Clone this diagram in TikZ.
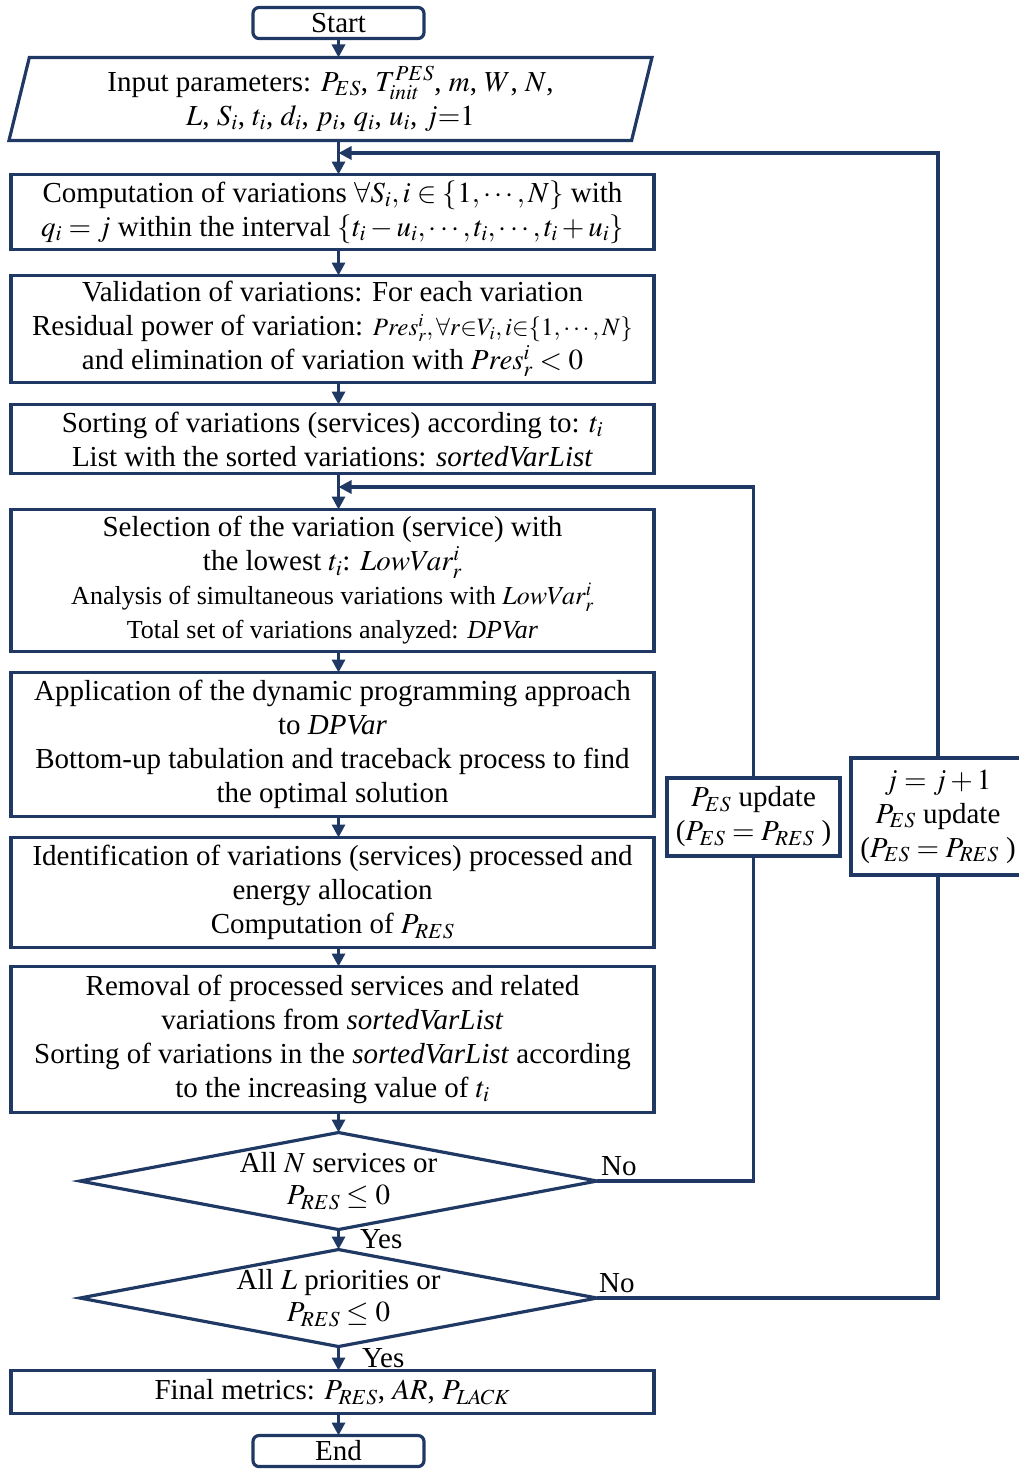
\documentclass[tikz,border=0pt]{standalone}
\usepackage{mathptmx}
\usepackage{fontspec}
\setmainfont{Liberation Serif}
\usepackage{tikz}
\usetikzlibrary{arrows.meta, positioning, shapes.geometric, calc}
\definecolor{navy}{RGB}{32,56,100}
\tikzset{%
	term/.style={draw=navy, line width=3.2pt, rectangle, rounded corners=6pt, minimum width=171pt, minimum height=31pt, inner sep=0pt, outer sep=0pt},
	io/.style={draw=navy, line width=3.2pt, trapezium, trapezium left angle=72.6, trapezium right angle=107.4,%
		trapezium stretches body, minimum width=643pt, minimum height=83pt, inner sep=0pt, outer sep=0pt, align=center},
	proc/.style={draw=navy, line width=3.2pt, rectangle, minimum width=643pt, align=center, inner sep=2pt, outer sep=0pt},
	dec/.style={draw=navy, line width=3.2pt, diamond, aspect=5.33, minimum width=517pt, minimum height=97pt,%
		inner sep=0pt, outer sep=0pt, align=center},
	upd/.style={draw=navy, line width=3.2pt, rectangle, align=center, inner sep=2pt, outer sep=0pt},
	flow/.style={draw=navy, line width=3.2pt},
	arr/.style={flow, -{Triangle[length=13pt, width=13pt]}},
	lbl/.style={inner sep=2pt}
}

\begin{document}
\begin{tikzpicture}[x=1pt, y=-1pt, font=\fontsize{29}{34}\selectfont]
		\useasboundingbox (0,0) rectangle (1018,1469);
		\node[term] (start) at (338.5,23) {Start};
		\node[io, xshift=-8pt] (input) [below=19pt of start]
			{Input parameters: $P_{ES}$, $T^{PES}_{init}$, $m$, $W$, $N$,\\ $L$, $S_i$, $t_i$, $d_i$, $p_i$, $q_i$, $u_i$, $j{=}1$};
		\node[proc, minimum height=75pt, xshift=2pt] (b1) [below=34pt of input]
			{Computation of variations $\forall S_i, i\in\{1,\cdots,N\}$ with\\ $q_i=j$ within the interval $\{t_i-u_i,\cdots,t_i,\cdots,t_i+u_i\}$};
		\node[proc, minimum height=107pt] (b2) [below=26pt of b1]
			{Validation of variations: For each variation\\ Residual power of variation: {\fontsize{25}{34}\selectfont$Pres^i_r,\forall r{\in}V_i, i{\in}\{1,\cdots,N\}$}\\ and elimination of variation with $Pres^i_r<0$};
		\node[proc, minimum height=69pt] (b3) [below=22pt of b2]
			{Sorting of variations (services) according to: $t_i$\\ List with the sorted variations: \textit{sortedVarList}};
		\node[proc, minimum height=142pt] (b4) [below=36pt of b3]
			{Selection of the variation (service) with\\ the lowest $t_i$: $LowVar^i_r$\\ {\fontsize{26}{32}\selectfont Analysis of simultaneous variations with $LowVar^i_r$}\\ {\fontsize{26}{30}\selectfont Total set of variations analyzed: \textit{DPVar}}};
		\node[proc, minimum height=144pt] (b5) [below=21pt of b4]
			{Application of the dynamic programming approach\\ to \textit{DPVar}\\ Bottom-up tabulation and traceback process to find\\ the optimal solution};
		\node[proc, minimum height=110pt] (b6) [below=21pt of b5]
			{Identification of variations (services) processed and\\ energy allocation\\ Computation of $P_{RES}$};
		\node[proc, minimum height=146pt] (b7) [below=19pt of b6]
			{Removal of processed services and related\\ variations from \textit{sortedVarList}\\ Sorting of variations in the \textit{sortedVarList} according\\ to the increasing value of $t_i$};
		\node[dec, xshift=6pt] (d1) [below=20pt of b7] {All $N$ services or\\[-2pt] $P_{RES}\leq 0$};
		\node[dec] (d2) [below=20pt of d1] {All $L$ priorities or\\[-2pt] $P_{RES}\leq 0$};
		\node[proc, minimum height=43pt, xshift=-6pt] (fin) [below=24pt of d2] {Final metrics: $P_{RES}$, $AR$, $P_{LACK}$};
		\node[term, xshift=6pt] (end) [below=22pt of fin] {End};
		\node[upd, minimum width=173pt, minimum height=78pt] (ub1) at (753.5,817) {$P_{ES}$ update\\ ($P_{ES}=P_{RES}$ )};
		\node[upd, minimum width=174pt, minimum height=117pt] (ub2) at (938,816.5) {$j=j+1$\\ $P_{ES}$ update\\ ($P_{ES}=P_{RES}$ )};
		\coordinate (j1) at (338.5,487);
		\coordinate (j2) at (338.5,153);
		\node[lbl, anchor=base west] (no1) at ($(d1.east)+(2,-6)$) {No};
		\node[lbl, anchor=base west] (no2) at ($(d2.east)+(0,-6)$) {No};

		\foreach \a/\b in {start/input, input/b1, b1/b2, b2/b3, b3/b4, b4/b5, b5/b6, b6/b7, b7/d1, fin/end}
			\draw[arr] (\a.south -| start) -- (\b.north -| start);
		\draw[arr] (d1.south) -- node[lbl, right=18pt] {Yes} (d2.north);
		\draw[arr] (d2.south) -- node[lbl, right=20pt] {Yes} (fin.north -| start);

		\draw[flow] (d1.east) -- (d1.east -| ub1) -- (ub1.south);
		\draw[arr] (ub1.north) -- (ub1.north |- j1) -- (j1);
		\draw[flow] (d2.east) -- (d2.east -| ub2) -- (ub2.south);
		\draw[arr] (ub2.north) -- (ub2.north |- j2) -- (j2);
	\end{tikzpicture}
\end{document}
